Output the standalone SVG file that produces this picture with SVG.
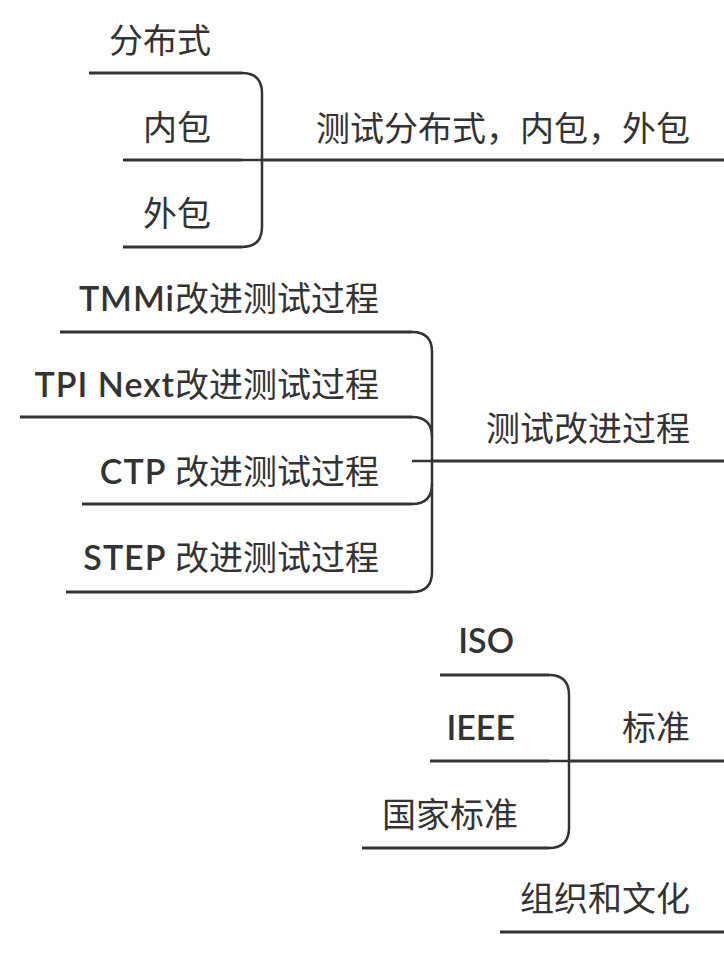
<svg xmlns="http://www.w3.org/2000/svg" width="724" height="960" viewBox="0 0 724 960">
<style>
text{font-family:Lato,"Noto Sans CJK SC","Noto Sans",sans-serif;font-size:34px;fill:#333;text-anchor:end}
.l{font-weight:600;letter-spacing:1px}
.b{font-weight:600}
.u{stroke:#333;stroke-width:3;fill:none}
.c{stroke:#333;stroke-width:2.5;fill:none}
</style>
<rect width="724" height="960" fill="#fff"/>
<g id="connectors">
<path class="c" d="M242,73 Q262,73 262,93 V227 Q262,247 242,247"/>
<path class="c" d="M242,160 H262"/>
<path class="c" d="M412,332 Q432,332 432,352 V572 Q432,592 412,592"/>
<path class="c" d="M412,417 Q432,417 432,437"/>
<path class="c" d="M412,504 Q432,504 432,484"/>
<path class="c" d="M412,461 H432"/>
<path class="c" d="M549,675 Q569,675 569,695 V828 Q569,848 549,848"/>
<path class="c" d="M549,761 H569"/>
</g>
<g id="n-main1"><path class="u" d="M262,160 H724"/><text x="690" y="141">测试分布式，内包，外包</text></g>
<g id="n-fbs"><path class="u" d="M89,73 H242"/><text x="211" y="53">分布式</text></g>
<g id="n-nb"><path class="u" d="M123,160 H242"/><text x="211" y="140">内包</text></g>
<g id="n-wb"><path class="u" d="M123,247 H242"/><text x="211" y="226">外包</text></g>
<g id="n-main2"><path class="u" d="M432,461 H724"/><text x="690" y="441">测试改进过程</text></g>
<g id="n-tmmi"><path class="u" d="M60,332 H412"/><text x="379" y="311"><tspan class="l">TMMi</tspan>改进测试过程</text></g>
<g id="n-tpi"><path class="u" d="M20,417 H412"/><text x="379" y="397"><tspan class="l">TPI Next</tspan>改进测试过程</text></g>
<g id="n-ctp"><path class="u" d="M82,504 H412"/><text x="379" y="484"><tspan class="l">CTP </tspan>改进测试过程</text></g>
<g id="n-step"><path class="u" d="M66,592 H412"/><text x="379" y="570"><tspan class="l">STEP </tspan>改进测试过程</text></g>
<g id="n-main3"><path class="u" d="M569,761 H724"/><text x="690" y="740">标准</text></g>
<g id="n-iso"><path class="u" d="M440,675 H549"/><text class="b" x="514" y="653">ISO</text></g>
<g id="n-ieee"><path class="u" d="M430,761 H549"/><text class="b" x="515" y="740">IEEE</text></g>
<g id="n-gj"><path class="u" d="M362,848 H549"/><text x="518" y="827">国家标准</text></g>
<g id="n-main4"><path class="u" d="M500,932 H724"/><text x="690" y="911">组织和文化</text></g>
</svg>
